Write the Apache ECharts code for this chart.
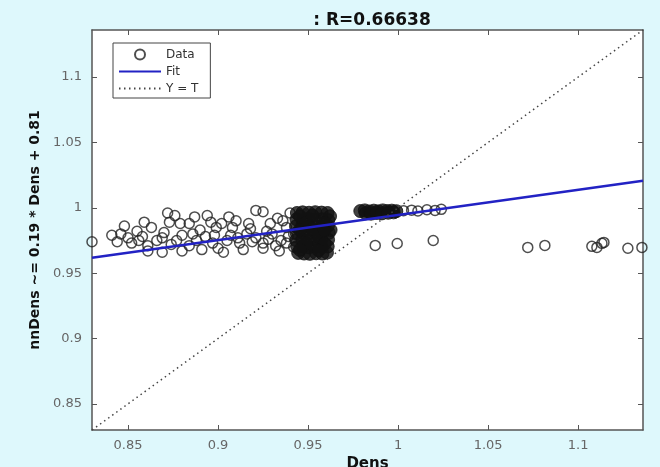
<!DOCTYPE html>
<html>
<head>
<meta charset="utf-8">
<script src="https://cdn.jsdelivr.net/npm/echarts@6/dist/echarts.min.js"></script>
<style>
  html, body { margin: 0; padding: 0; background: #def8fc; }
  #chart { width: 660px; height: 467px; }
</style>
</head>
<body>
<div id="chart"></div>
<script>
// axis range and tick labels (same on both axes)
const axisMin = 0.83
const axisMax = 1.136
const tickValues = [0.85, 0.9, 0.95, 1, 1.05, 1.1]

// linear fit: nnDens ~= slope * Dens + intercept
const fitSlope = 0.193
const fitIntercept = 0.8015

// scattered points on the left
const spreadPts = [
  [0.830, 0.974], [0.841, 0.979], [0.846, 0.980], [0.844, 0.974], [0.850, 0.977],
  [0.852, 0.973], [0.856, 0.975], [0.859, 0.989], [0.861, 0.971], [0.866, 0.975],
  [0.869, 0.977], [0.872, 0.996], [0.873, 0.989], [0.876, 0.994], [0.877, 0.975],
  [0.879, 0.988], [0.880, 0.979], [0.884, 0.988], [0.884, 0.971], [0.888, 0.975],
  [0.890, 0.983], [0.894, 0.994], [0.896, 0.989], [0.898, 0.979], [0.900, 0.969],
  [0.902, 0.988], [0.905, 0.975], [0.908, 0.985], [0.910, 0.990], [0.912, 0.973],
  [0.916, 0.980], [0.917, 0.988], [0.921, 0.998], [0.925, 0.997], [0.921, 0.977],
  [0.925, 0.973], [0.929, 0.988], [0.930, 0.980], [0.933, 0.992], [0.935, 0.975],
  [0.938, 0.985], [0.940, 0.996], [0.938, 0.973], [0.861, 0.967], [0.869, 0.966],
  [0.880, 0.967], [0.891, 0.968], [0.903, 0.966], [0.914, 0.968], [0.925, 0.969],
  [0.934, 0.967], [0.855, 0.982], [0.863, 0.985], [0.887, 0.993], [0.893, 0.978],
  [0.906, 0.993], [0.918, 0.984], [0.927, 0.982], [0.936, 0.990], [0.942, 0.980],
  [0.942, 0.970], [0.848, 0.986], [0.870, 0.981], [0.899, 0.985], [0.911, 0.977],
  [0.932, 0.971], [0.858, 0.978], [0.874, 0.972], [0.886, 0.980], [0.897, 0.973],
  [0.907, 0.979], [0.919, 0.974], [0.928, 0.976], [0.939, 0.978]
]

// big overlapping blob near Dens = 0.95
const denseMain = [
  [0.9438, 0.9960], [0.9470, 0.9965], [0.9505, 0.9962], [0.9540, 0.9966], [0.9575, 0.9963], [0.9608, 0.9960],
  [0.9436, 0.9912], [0.9472, 0.9905], [0.9503, 0.9915], [0.9541, 0.9908], [0.9577, 0.9912], [0.9612, 0.9906], [0.9622, 0.9935],
  [0.9433, 0.9858], [0.9468, 0.9862], [0.9506, 0.9855], [0.9538, 0.9860], [0.9574, 0.9853], [0.9610, 0.9861],
  [0.9437, 0.9805], [0.9471, 0.9810], [0.9502, 0.9802], [0.9543, 0.9807], [0.9578, 0.9800], [0.9615, 0.9808], [0.9625, 0.9830],
  [0.9434, 0.9752], [0.9469, 0.9757], [0.9507, 0.9750], [0.9539, 0.9755], [0.9573, 0.9751], [0.9611, 0.9756],
  [0.9440, 0.9700], [0.9473, 0.9705], [0.9504, 0.9697], [0.9542, 0.9702], [0.9576, 0.9698], [0.9609, 0.9704],
  [0.9445, 0.9655], [0.9478, 0.9650], [0.9510, 0.9648], [0.9545, 0.9652], [0.9580, 0.9650], [0.9605, 0.9657],
  [0.9455, 0.9935], [0.9490, 0.9888], [0.9522, 0.9835], [0.9558, 0.9780], [0.9592, 0.9725], [0.9488, 0.9728],
  [0.9525, 0.9940], [0.9593, 0.9885], [0.9455, 0.9830], [0.9558, 0.9675], [0.9455, 0.9678], [0.9590, 0.9830]
]

// thin blob near Dens = 0.98 - 1.0
const denseHigh = [
  [0.9790, 0.9975], [0.9815, 0.9980], [0.9840, 0.9972], [0.9865, 0.9978], [0.9890, 0.9973],
  [0.9915, 0.9980], [0.9940, 0.9975], [0.9965, 0.9978], [0.9990, 0.9974], [0.9820, 0.9958],
  [0.9850, 0.9955], [0.9880, 0.9960], [0.9910, 0.9957], [0.9945, 0.9962], [0.9975, 0.9965]
]

const highTrail = [
  [1.0030, 0.9978], [1.0075, 0.9982], [1.0110, 0.9975], [1.0160, 0.9985], [1.0205, 0.9980], [1.0240, 0.9988]
]

const lowOutliers = [
  [0.9873, 0.9712], [0.9995, 0.9727], [1.0195, 0.9750],
  [1.0720, 0.9697], [1.0815, 0.9712], [1.1076, 0.9705], [1.1104, 0.9697],
  [1.1132, 0.9728], [1.1143, 0.9735], [1.1276, 0.9690], [1.1354, 0.9697]
]

const fitLine = [axisMin, axisMax].map(x => [x, fitSlope * x + fitIntercept])
const identityLine = [[axisMin, axisMin], [axisMax, axisMax]]

const font = 'DejaVu Sans'
const axisColor = '#555'

const chart = echarts.init(document.getElementById('chart'))

const baseAxis = {
  type: 'value',
  min: axisMin,
  max: axisMax,
  splitLine: { show: false },
  axisLine: { show: true, onZero: false, lineStyle: { color: axisColor, width: 1.5 } },
  axisTick: { show: true, inside: true, length: 5, customValues: tickValues, lineStyle: { color: axisColor } },
  axisLabel: { show: true, customValues: tickValues, color: '#666', fontFamily: font, fontSize: 13 }
}

const options = {
  backgroundColor: '#def8fc',
  animation: false,
  title: {
    text: ': R=0.66638',
    left: 367,
    top: 7,
    textAlign: 'center',
    textStyle: { fontFamily: font, fontSize: 17, fontWeight: 'bold', color: '#111' }
  },
  legend: {
    orient: 'vertical',
    left: 113,
    top: 43,
    data: [
      { name: 'Data' },
      { name: 'Fit', itemStyle: { opacity: 0 } },
      { name: 'Y = T', itemStyle: { opacity: 0 } }
    ],
    backgroundColor: '#fff',
    borderColor: '#444',
    borderWidth: 1,
    borderRadius: 0,
    padding: [5, 12, 3, 5],
    itemWidth: 42,
    itemHeight: 10,
    itemGap: 4,
    textStyle: { fontFamily: font, fontSize: 12, color: '#333', lineHeight: 13 }
  },
  grid: {
    left: 92, right: 17, top: 30, bottom: 37,
    outerBoundsMode: 'none',
    containLabel: false,
    show: true, backgroundColor: '#fff', borderWidth: 0
  },
  xAxis: [
    Object.assign({}, baseAxis, {
      position: 'bottom',
      name: 'Dens',
      nameLocation: 'middle',
      nameGap: 26,
      nameTextStyle: { fontFamily: font, fontSize: 15, fontWeight: 'bold', color: '#111' },
      axisLabel: Object.assign({}, baseAxis.axisLabel, { margin: 9 })
    }),
    Object.assign({}, baseAxis, { position: 'top', axisLabel: { show: false } })
  ],
  yAxis: [
    Object.assign({}, baseAxis, {
      position: 'left',
      name: 'nnDens ~= 0.19 * Dens + 0.81',
      nameLocation: 'middle',
      nameGap: 46,
      nameTextStyle: { fontFamily: font, fontSize: 14, fontWeight: 'bold', color: '#111' },
      axisLabel: Object.assign({}, baseAxis.axisLabel, { margin: 10 })
    }),
    Object.assign({}, baseAxis, { position: 'right', axisLabel: { show: false } })
  ],
  series: [
    {
      name: 'Data',
      type: 'scatter',
      symbol: 'circle',
      symbolSize: 10,
      itemStyle: { color: 'rgba(255,255,255,0)', borderColor: '#222', borderWidth: 1.5 },
      data: spreadPts.concat(highTrail, lowOutliers)
    },
    {
      name: 'Data',
      type: 'scatter',
      symbol: 'circle',
      symbolSize: 13,
      itemStyle: { color: '#111', borderColor: '#111', borderWidth: 1 },
      data: denseMain.concat(denseHigh)
    },
    {
      name: 'Fit',
      type: 'line',
      symbol: 'none',
      showSymbol: false,
      lineStyle: { color: '#2222c4', width: 2.5 },
      data: fitLine
    },
    {
      name: 'Y = T',
      type: 'line',
      symbol: 'none',
      showSymbol: false,
      lineStyle: { color: '#444', width: 1.5, type: [1.5, 3.5] },
      data: identityLine
    }
  ]
}

chart.setOption(options, true)
</script>
</body>
</html>
